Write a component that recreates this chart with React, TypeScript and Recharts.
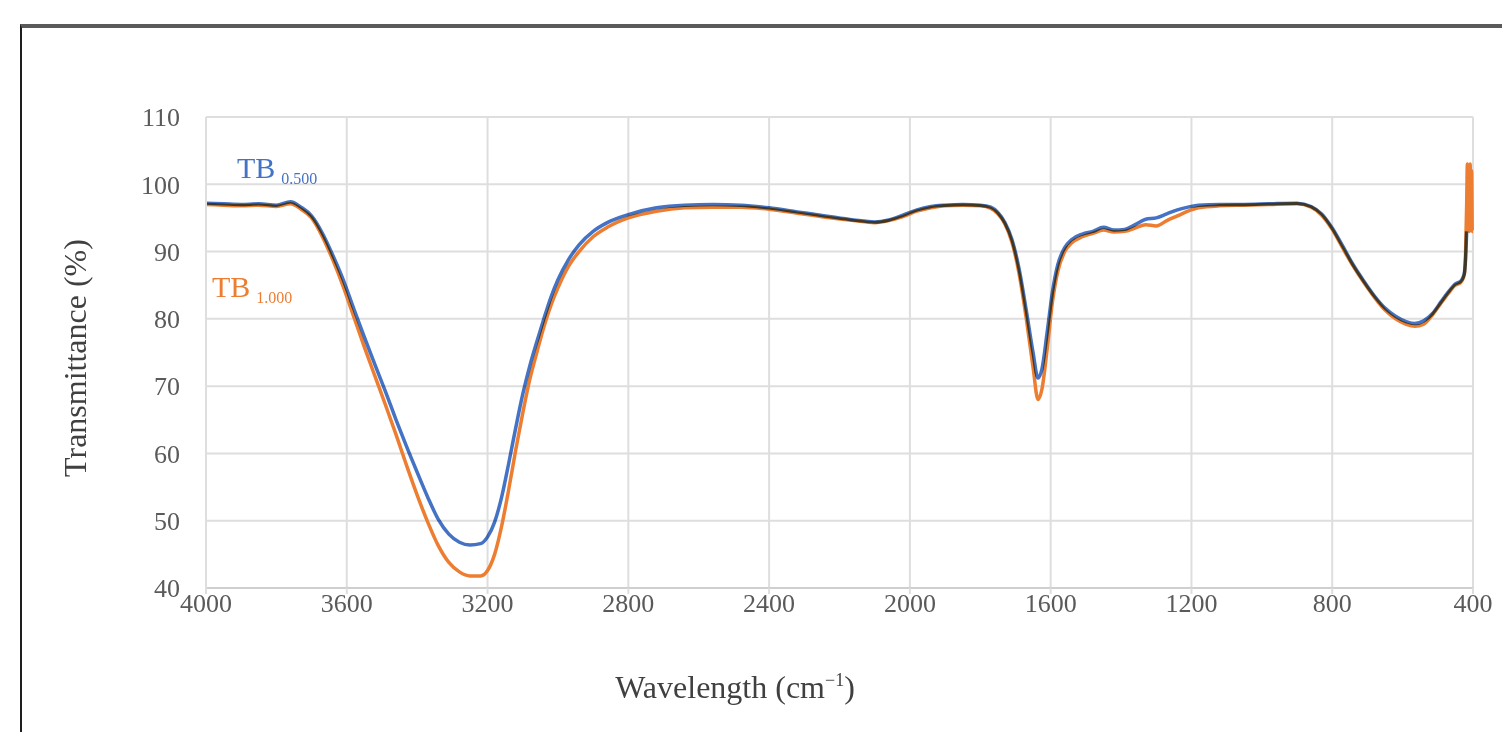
import React from 'react';
import { LineChart, Line, XAxis, YAxis, CartesianGrid } from 'recharts';

const wavenumbers = [
  4000, 3950, 3900, 3850, 3800, 3760, 3730, 3700, 3670, 3640, 3610, 3580, 3550, 3520, 3490, 3460, 3430, 3400,
  3370, 3340, 3310, 3280, 3250, 3220, 3200, 3180, 3160, 3140, 3120, 3100, 3080, 3060, 3040, 3020, 3000, 2970,
  2940, 2900, 2860, 2800, 2720, 2640, 2560, 2480, 2400, 2320, 2240, 2160, 2100, 2060, 2020, 1980, 1940, 1900,
  1850, 1800, 1770, 1750, 1730, 1710, 1690, 1670, 1650, 1636, 1625, 1610, 1595, 1580, 1560, 1540, 1510, 1480,
  1450, 1420, 1390, 1360, 1330, 1300, 1270, 1240, 1210, 1180, 1120, 1050, 980, 900, 860, 830, 800, 770, 740,
  710, 680, 650, 620, 590, 565, 540, 515, 490, 470, 450, 435, 428, 424, 421, 418, 416, 414, 412, 410, 408, 406,
  404, 402, 400,
];

const tb0500 = [
  97.2, 97.1, 97.0, 97.1, 96.9, 97.4, 96.6, 95.3, 92.8, 89.5, 85.8, 81.5, 77.3, 73.2, 69.2, 65.0, 61.0, 57.2,
  53.5, 50.2, 48.0, 46.8, 46.4, 46.6, 47.6, 49.8, 53.5, 58.5, 63.8, 68.8, 73.0, 76.6, 80.0, 83.2, 85.8, 88.8,
  91.0, 93.0, 94.3, 95.5, 96.5, 96.9, 97.0, 96.9, 96.5, 95.9, 95.3, 94.7, 94.4, 94.7, 95.4, 96.2, 96.7, 96.9,
  97.0, 96.9, 96.6, 95.8, 94.3, 91.8, 87.5, 81.5, 75.0, 71.2, 72.5, 78.0, 84.0, 88.0, 90.6, 91.8, 92.6, 93.0,
  93.6, 93.2, 93.3, 94.0, 94.8, 95.0, 95.6, 96.2, 96.6, 96.9, 97.0, 97.0, 97.1, 97.2, 96.7, 95.6, 93.5, 90.8, 88.0,
  85.6, 83.4, 81.6, 80.4, 79.6, 79.3, 79.7, 80.8, 82.6, 84.0, 85.2, 85.6, 86.2, 87.0, 89.0, 93.0, null, null, null,
  null, null, null, null, null, null,
];

const tb1000 = [
  97.0, 96.9, 96.8, 96.9, 96.7, 97.1, 96.3, 95.0, 92.3, 88.8, 84.8, 80.3, 75.8, 71.5, 67.2, 62.8, 58.2, 53.8,
  49.8, 46.3, 43.8, 42.4, 41.8, 41.8, 42.6, 45.0, 49.2, 54.6, 60.5, 66.0, 71.0, 75.0, 78.8, 82.0, 84.6, 87.8,
  90.0, 92.2, 93.6, 95.0, 96.0, 96.5, 96.6, 96.6, 96.3, 95.7, 95.1, 94.6, 94.3, 94.6, 95.2, 96.0, 96.5, 96.8,
  96.9, 96.8, 96.4, 95.6, 94.1, 91.4, 86.8, 80.3, 72.8, 68.0, 69.5, 75.5, 82.5, 87.0, 90.0, 91.3, 92.2, 92.7,
  93.2, 92.9, 93.0, 93.5, 94.0, 93.8, 94.6, 95.3, 96.0, 96.5, 96.8, 96.9, 97.0, 97.1, 96.6, 95.4, 93.3, 90.5, 87.8,
  85.4, 83.2, 81.3, 80.0, 79.2, 78.9, 79.2, 80.6, 82.4, 83.8, 85.0, 85.4, 86.0, 86.8, 90.0, 97.0, 103.0, 94.0,
  102.5, 93.0, 103.0, 94.0, 102.0, 93.0, 93.0,
];

const xTicks = [4000, 3600, 3200, 2800, 2400, 2000, 1600, 1200, 800, 400];
const yTicks = [40, 50, 60, 70, 80, 90, 100, 110];

const seriesNames = ['TB', 'TB'];
const seriesSubs = ['0.500', '1.000'];
const xTitle = 'Wavelength (cm';
const yTitle = 'Transmittance (%)';

const data = wavenumbers.map((w, i) => ({ w, a: tb0500[i], b: tb1000[i] }));

const FONT = '"Liberation Serif", "Times New Roman", serif';
const BLUE = '#4472C4';
const ORANGE = '#ED7D31';

const W = 1494;
const H = 724;

export default function App() {
  return (
    <div style={{ position: 'relative', width: W, height: H, overflow: 'hidden', background: '#fff' }}>
      <div
        style={{
          position: 'absolute',
          left: 12,
          top: 16,
          width: 1600,
          height: 900,
          borderTop: '4px solid #5a5a5a',
          borderLeft: '2px solid #1e1e1e',
        }}
      />
      <LineChart
        width={W}
        height={H}
        data={data}
        margin={{ top: 109, right: 29, left: 50, bottom: 104 }}
        style={{ position: 'absolute', left: 0, top: 0 }}
      >
        <CartesianGrid stroke="#dedede" strokeWidth={2} vertical horizontal />
        <XAxis
          dataKey="w"
          type="number"
          domain={[400, 4000]}
          reversed
          ticks={xTicks}
          interval={0}
          height={40}
          axisLine={{ stroke: '#cfcfcf', strokeWidth: 2 }}
          tickLine={{ stroke: '#dedede', strokeWidth: 2 }}
          tickSize={6}
          tickMargin={0}
          tick={{ fontFamily: FONT, fontSize: 26, fill: '#5a5a5a' }}
          label={{
            content: () => (
              <text x={727} y={690} textAnchor="middle" fontFamily={FONT} fontSize={32} fill="#404040">
                {xTitle}
                <tspan fontSize={18} dy={-12}>−1</tspan>
                <tspan dy={12}>)</tspan>
              </text>
            ),
          }}
        />
        <YAxis
          type="number"
          domain={[40, 110]}
          ticks={yTicks}
          interval={0}
          width={148}
          axisLine={{ stroke: '#dedede', strokeWidth: 2 }}
          tickLine={false}
          tickSize={6}
          tickMargin={20}
          tick={{ fontFamily: FONT, fontSize: 26, fill: '#5a5a5a' }}
          label={{
            content: () => (
              <text
                x={67}
                y={350}
                transform="rotate(-90, 67, 350)"
                textAnchor="middle"
                dominantBaseline="central"
                fontFamily={FONT}
                fontSize={32}
                fill="#404040"
              >
                {yTitle}
              </text>
            ),
          }}
        />
        <Line
          type="monotone"
          dataKey="b"
          stroke={ORANGE}
          strokeWidth={3.5}
          dot={false}
          isAnimationActive={false}
        />
        <Line
          type="monotone"
          dataKey="a"
          stroke={BLUE}
          strokeWidth={3.5}
          dot={false}
          isAnimationActive={false}
          style={{ mixBlendMode: 'multiply' }}
        />
      </LineChart>
      <svg width={W} height={H} style={{ position: 'absolute', left: 0, top: 0, pointerEvents: 'none' }}>
        <text x={229} y={170} fontFamily={FONT} fontSize={30} fill={BLUE}>
          {seriesNames[0]}
          <tspan dx={6} dy={6} fontSize={16}>{seriesSubs[0]}</tspan>
        </text>
        <text x={204} y={289} fontFamily={FONT} fontSize={30} fill={ORANGE}>
          {seriesNames[1]}
          <tspan dx={6} dy={6} fontSize={16}>{seriesSubs[1]}</tspan>
        </text>
      </svg>
    </div>
  );
}
